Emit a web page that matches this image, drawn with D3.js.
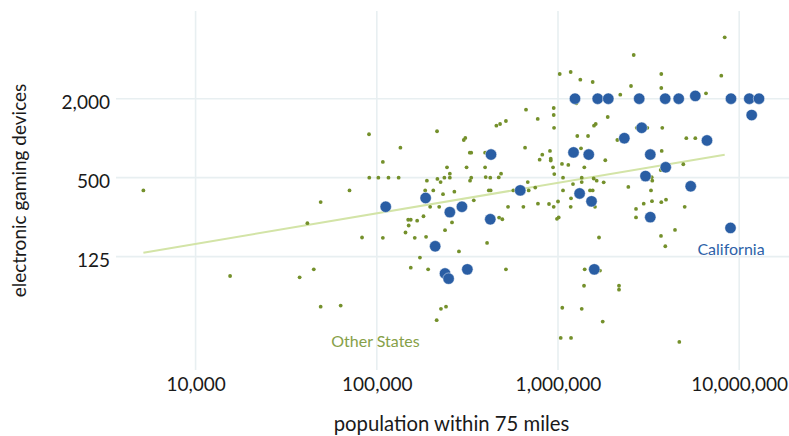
<!DOCTYPE html>
<html>
<head>
<meta charset="utf-8">
<script src="https://cdn.jsdelivr.net/npm/d3@7"></script>
<style>
  html, body { margin: 0; padding: 0; background: #fff; }
  svg { display: block; font-family: Lato, "Open Sans", sans-serif; }
</style>
</head>
<body>
<svg id="chart" width="789" height="436"></svg>
<script>
// Gaming venues: population within 75 miles vs. number of electronic gaming devices
const otherPop = [
  5150, 15500, 37500, 44900, 41400, 49000, 70700, 49000, 63200, 90600,
  108000, 135000, 82900, 108000, 90900, 102000, 116000, 132000, 189000, 216000,
  225000, 236000, 253000, 253000, 244000, 313000, 396000, 327000, 332000, 399000,
  423000, 471000, 485000, 681000, 954000, 1066000, 939000, 1052000, 1140000, 1397000,
  1824000, 1352000, 1352000, 1210000, 1574000, 1635000, 1787000, 3289000, 3314000, 3688000,
  4915000, 326000, 332000, 396000, 658000, 819000, 792000, 903000, 912000, 912000,
  1340000, 3735000, 302000, 308000, 215000, 1278000, 1465000, 2125000, 5106000, 5725000,
  457000, 479000, 516000, 951000, 1580000, 1615000, 2719000, 3111000, 3763000, 666000,
  773000, 947000, 947000, 1881000, 1262000, 2207000, 6557000, 1022000, 1175000, 1328000,
  1554000, 2529000, 3716000, 3716000, 7965000, 2617000, 8318000, 185000, 205000, 232000,
  268000, 415000, 425000, 343000, 567000, 689000, 749000, 197000, 221000, 530000,
  644000, 775000, 892000, 947000, 1000000, 1180000, 1175000, 1600000, 987000, 1009000,
  1684000, 2695000, 2695000, 2972000, 3301000, 3716000, 3945000, 5003000, 4423000, 3702000,
  3910000, 1066000, 1502000, 1554000, 2444000, 3260000, 149000, 154000, 167000, 181000,
  150000, 144000, 162000, 187000, 238000, 260000, 473000, 493000, 406000, 284000,
  173000, 154000, 192000, 516000, 226000, 241000, 214000, 1056000, 1352000, 1765000,
  1035000, 1180000, 4672000, 1404000, 1705000, 1392000, 2171000, 2171000
];
const otherDevices = [
  400, 89, 87, 100, 225, 326, 400, 52, 53, 1071,
  659, 846, 175, 174, 500, 500, 500, 500, 474, 489,
  463, 500, 500, 536, 600, 600, 600, 474, 500, 505,
  500, 502, 536, 463, 533, 500, 600, 636, 625, 600,
  679, 500, 463, 447, 493, 474, 461, 504, 474, 572,
  633, 776, 776, 776, 846, 749, 686, 799, 698, 676,
  837, 799, 969, 1004, 1129, 1039, 1039, 969, 1000, 1000,
  1245, 1283, 1352, 1200, 1245, 1283, 1200, 1200, 1200, 1649,
  1401, 1699, 1502, 1450, 1845, 2145, 2199, 3085, 3195, 2791,
  2681, 2499, 3085, 2413, 2995, 4306, 5874, 400, 400, 374,
  391, 400, 400, 336, 400, 400, 420, 300, 300, 300,
  300, 317, 315, 300, 329, 348, 300, 300, 243, 249,
  175, 289, 249, 317, 331, 325, 340, 300, 200, 180,
  150, 400, 400, 400, 425, 400, 239, 239, 235, 254,
  216, 191, 174, 177, 199, 228, 248, 241, 159, 137,
  123, 103, 100, 100, 50, 52, 41, 51, 50, 40,
  30, 30, 28, 100, 98, 75, 75, 70
];
const caPop = [
  1241000, 1656000, 1895000, 2807000, 3905000, 4637000, 5725000, 9009000, 11369000, 12859000,
  11722000, 2897000, 2323000, 6641000, 1218000, 1478000, 3231000, 427000, 3930000, 3040000,
  5400000, 619000, 1316000, 1531000, 186000, 112000, 295000, 253000, 423000, 3231000,
  8953000, 210000, 316000, 1586000, 238000, 249000
];
const caDevices = [
  2000, 2000, 2000, 2000, 2000, 2000, 2100, 2000, 2000, 2000,
  1500, 1200, 1000, 961, 779, 750, 750, 750, 600, 514,
  430, 400, 379, 330, 350, 300, 300, 273, 241, 250,
  207, 150, 100, 100, 93, 85
];
// least-squares trend through the other-state venues (log-log)
const trendPop = [5150, 8318000];
const trendDevices = [134, 749];

const xTicks = [1e4, 1e5, 1e6, 1e7];
const yTicks = [125, 500, 2000];

const plot = { left: 116, right: 789, top: 11, bottom: 370 };

const svg = d3.select("#chart");

const x = d3.scaleLog().domain([3637, 18830000]).range([plot.left, plot.right]);
const y = d3.scaleLog().domain([17.1, 9320]).range([plot.bottom, plot.top]);
const fmt = d3.format(",");

const grid = svg.append("g").attr("stroke", "#e8eff1").attr("stroke-width", 1.6);
grid.selectAll("line.v").data(xTicks).join("line")
  .attr("class", "v")
  .attr("x1", d => x(d)).attr("x2", d => x(d))
  .attr("y1", plot.top).attr("y2", plot.bottom);
grid.selectAll("line.h").data(yTicks).join("line")
  .attr("class", "h")
  .attr("x1", plot.left).attr("x2", plot.right)
  .attr("y1", d => y(d)).attr("y2", d => y(d));

// axes (labels only, no domain line / tick marks)
const xAxis = d3.axisBottom(x).tickValues(xTicks).tickFormat(fmt).tickSize(0).tickPadding(0);
const gx = svg.append("g").attr("transform", `translate(0,${plot.bottom})`).call(xAxis);
gx.select(".domain").remove();
gx.selectAll("text").attr("dy", null).attr("y", 21)
  .attr("font-size", 19).attr("fill", "#1a1a1a").attr("font-family", "Lato, sans-serif");

const yAxis = d3.axisLeft(y).tickValues(yTicks).tickFormat(fmt).tickSize(0).tickPadding(0);
const gy = svg.append("g").attr("transform", `translate(${plot.left - 6},0)`).call(yAxis);
gy.select(".domain").remove();
gy.selectAll("text").attr("dy", "0.5em")
  .attr("font-size", 19).attr("fill", "#1a1a1a").attr("font-family", "Lato, sans-serif");

// trend line
const trend = trendPop.map((p, i) => [p, trendDevices[i]]);
svg.append("path")
  .datum(trend)
  .attr("fill", "none")
  .attr("stroke", "#d3e4a7")
  .attr("stroke-width", 2)
  .attr("d", d3.line().x(d => x(d[0])).y(d => y(d[1])));

// other states
const others = otherPop.map((p, i) => ({ pop: p, dev: otherDevices[i] }));
svg.append("g").selectAll("circle").data(others).join("circle")
  .attr("cx", d => x(d.pop)).attr("cy", d => y(d.dev))
  .attr("r", 1.9)
  .attr("fill", "#74902b");

// California
const ca = caPop.map((p, i) => ({ pop: p, dev: caDevices[i] }));
svg.append("g").selectAll("circle").data(ca).join("circle")
  .attr("cx", d => x(d.pop)).attr("cy", d => y(d.dev))
  .attr("r", 5.7)
  .attr("fill", "#2a5ea4")
  .attr("stroke", "#ffffff")
  .attr("stroke-opacity", 0.6)
  .attr("stroke-width", 0.8);

// series labels
svg.append("text")
  .attr("x", 731).attr("y", 255)
  .attr("text-anchor", "middle")
  .attr("font-size", 16)
  .attr("fill", "#2d62a8")
  .text("California");

svg.append("text")
  .attr("x", 375.5).attr("y", 346.5)
  .attr("text-anchor", "middle")
  .attr("font-size", 16)
  .attr("fill", "#86a048")
  .text("Other States");

// axis titles
svg.append("text")
  .attr("x", (plot.left + plot.right) / 2 - 1).attr("y", 431)
  .attr("text-anchor", "middle")
  .attr("font-size", 20.3)
  .attr("fill", "#1a1a1a")
  .text("population within 75 miles");

svg.append("text")
  .attr("transform", `translate(26,${(plot.top + plot.bottom) / 2}) rotate(-90)`)
  .attr("text-anchor", "middle")
  .attr("font-size", 19)
  .attr("fill", "#1a1a1a")
  .text("electronic gaming devices");
</script>
</body>
</html>
